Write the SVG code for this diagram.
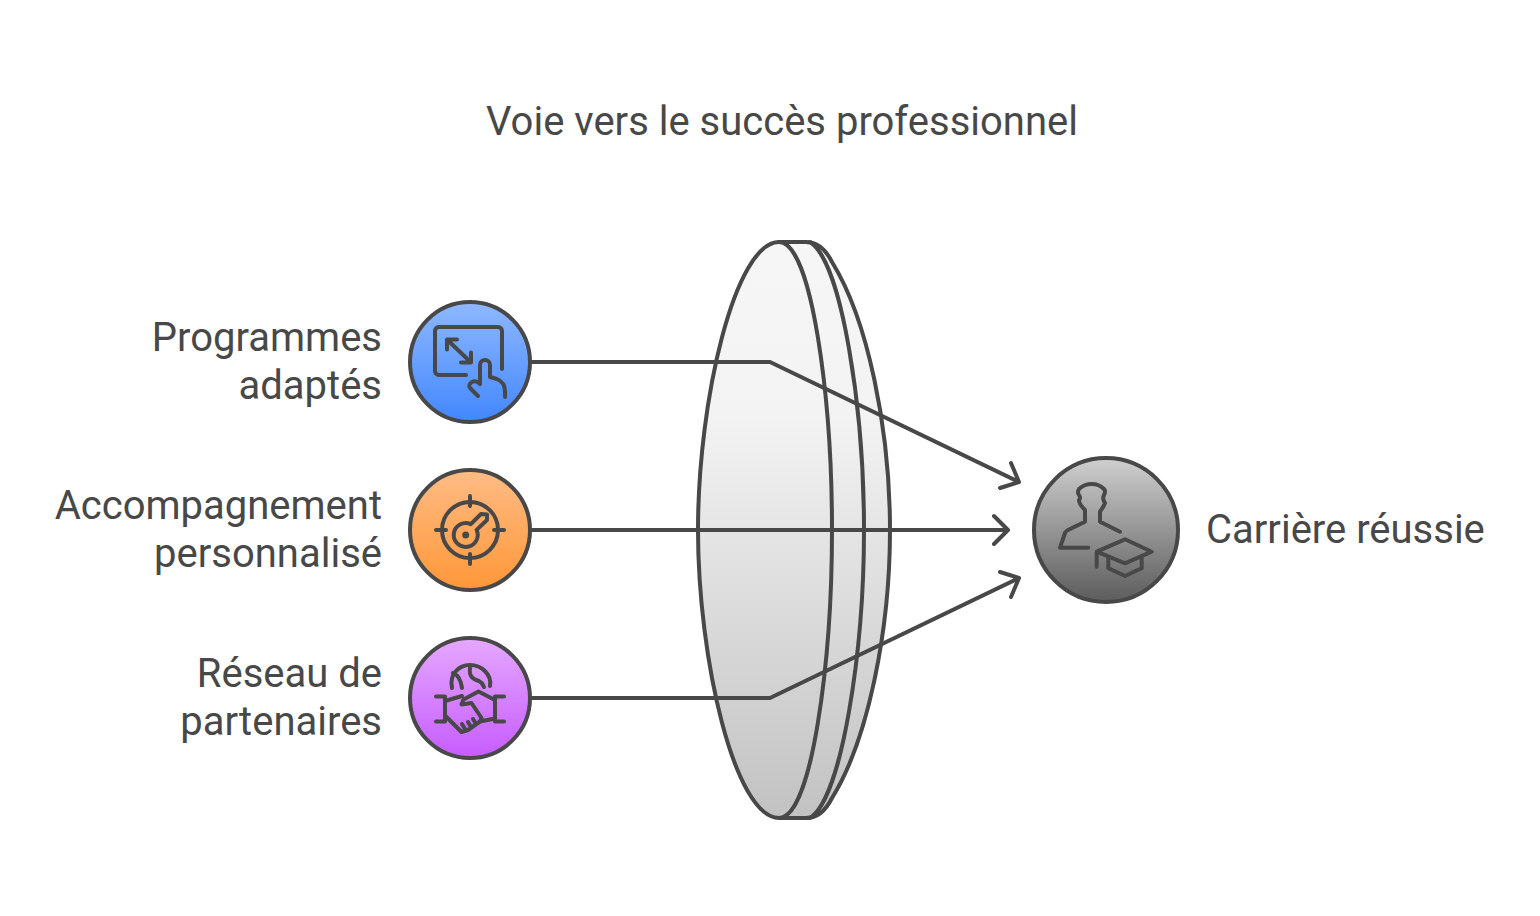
<svg xmlns="http://www.w3.org/2000/svg" width="1540" height="916" viewBox="0 0 1540 916">
<style>
text{font-family:Roboto,"Liberation Sans",sans-serif;font-size:40px;fill:#484848}
.e{text-anchor:end}
.s{fill:none;stroke:#484848;stroke-width:4;stroke-linecap:round;stroke-linejoin:round}
.c{stroke:#484848;stroke-width:4}
.l{stroke:#484848;stroke-width:4;stroke-linejoin:round}
</style>
<defs>
<linearGradient id="gb" x1="0" y1="0" x2="0" y2="1"><stop offset="0" stop-color="#8fb8ff"/><stop offset="1" stop-color="#4287ff"/></linearGradient>
<linearGradient id="go" x1="0" y1="0" x2="0" y2="1"><stop offset="0" stop-color="#ffbc85"/><stop offset="1" stop-color="#ff9738"/></linearGradient>
<linearGradient id="gp" x1="0" y1="0" x2="0" y2="1"><stop offset="0" stop-color="#e5a8ff"/><stop offset="1" stop-color="#c65cff"/></linearGradient>
<linearGradient id="gg" x1="0" y1="0" x2="0" y2="1"><stop offset="0" stop-color="#cfcfcf"/><stop offset="1" stop-color="#5c5c5c"/></linearGradient>
<linearGradient id="gl" gradientUnits="userSpaceOnUse" x1="0" y1="242" x2="0" y2="818"><stop offset="0" stop-color="#f6f6f6"/><stop offset="0.3" stop-color="#f3f3f3"/><stop offset="1" stop-color="#c2c2c2"/></linearGradient>
</defs>
<text id="title" x="782" y="135" text-anchor="middle">Voie vers le succès professionnel</text>
<g id="lens">
<path class="l" fill="url(#gl)" d="M779 242H806C818 242 826 250 832 262C868 320 890 430 890 530C890 630 868 740 832 798C826 810 818 818 806 818H779C735 818 698 660 698 530C698 400 735 242 779 242Z"/>
<path class="s" d="M779 242C812 242 832 400 832 530C832 660 812 818 779 818"/>
<path class="s" d="M810 242C842 262 864 410 864 530C864 650 842 798 810 818"/>
</g>
<g id="node-programmes">
<circle class="c" cx="470" cy="362" r="60" fill="url(#gb)"/>
<path class="s" d="M466 375H439a4 4 0 0 1-4-4V331a4 4 0 0 1 4-4H498a4 4 0 0 1 4 4V369"/>
<path class="s" d="M447 339.500L471 362.500M447 349.500V339.500H457M471 352.500V362.500H461"/>
<path class="s" d="M478 396L471 389Q467 385 472 382Q476 380 480 384V365a5 5 0 0 1 10 0V377L497 379Q505 382 505 392V397"/>
<text class="e" x="382" y="351">Programmes</text>
<text class="e" x="382" y="399">adaptés</text>
</g>
<g id="node-accompagnement">
<circle class="c" cx="470" cy="530" r="60" fill="url(#go)"/>
<circle class="s" cx="470" cy="530" r="28"/>
<path class="s" d="M436 530H446M494 530H504M470 496V506M470 554V564"/>
<path class="s" d="M470.800 524.100L481 514L487 514.500V520L476.600 529.900A12 12 0 1 1 470.800 524.100Z"/>
<circle cx="465.700" cy="535" r="3.500" fill="#484848"/>
<text class="e" x="382" y="519">Accompagnement</text>
<text class="e" x="382" y="567">personnalisé</text>
</g>
<g id="node-reseau">
<circle class="c" cx="470" cy="698" r="60" fill="url(#gp)"/>
<path class="s" d="M452 688C449 674 459 665 470 665C481 665 492 674 490 686"/>
<path class="s" d="M462 688C461 680 458 675 453 673M470 668C469 676 472 679 479 681C483 683 483 686 484 687"/>
<path class="s" d="M436 696.500H445V721.500H436M504 696.500H495V721.500H504"/>
<path class="s" d="M495 700L478.500 691.500L463.500 699.500L461.500 704.500L471.500 703L481.500 718L480 721.500L495 718.500"/>
<path class="s" d="M445 701L462 696M445 715.500L461.500 732L468 730L480 721.500M465 729L462 724M471 727L468 722M476 724L473 719"/>
<text class="e" x="382" y="687">Réseau de</text>
<text class="e" x="382" y="735">partenaires</text>
</g>
<g id="node-carriere">
<circle class="c" cx="1106" cy="530" r="72" fill="url(#gg)"/>
<path class="s" d="M1120 531.700L1100 521.700V511.700Q1104 506 1105 503Q1102 499 1104 495Q1106 491 1104 489Q1099 484 1092 484Q1084 484 1079 489Q1077 492 1079 495Q1081 498 1079 500Q1079 504 1085 510V521.700L1068 530Q1066 531 1065 533L1060 547.700H1088.300"/>
<path class="s" d="M1096.700 566.700V551.700L1125 539.300L1151.700 551.700L1125 563.300L1096.700 551.700M1108.300 558.300V568.300L1125 576L1141.700 568.300V558.300"/>
<text x="1206" y="543">Carrière réussie</text>
</g>
<g id="connectors">
<path class="s" d="M532 362H770L1019 482M1011 463L1019 482L1000 488"/>
<path class="s" d="M532 530H1007M994 516L1008 530L994 544"/>
<path class="s" d="M532 698H770L1019 578M1000 572L1019 578L1011 597"/>
</g>
</svg>
